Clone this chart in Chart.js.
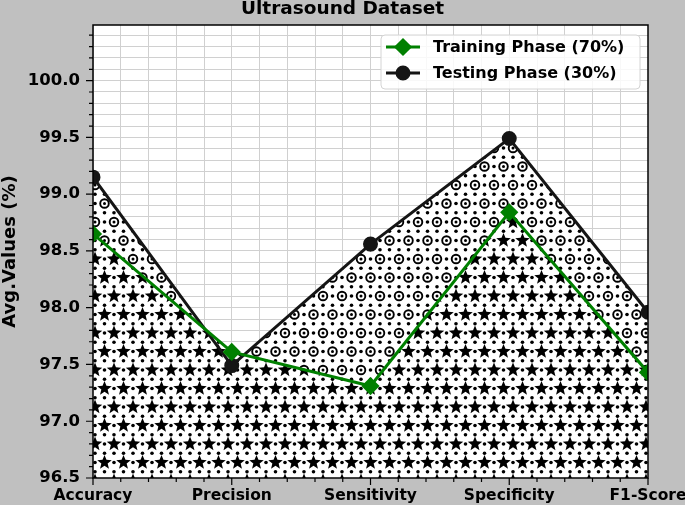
<!DOCTYPE html>
<html>
<head>
<meta charset="utf-8">
<script src="https://cdn.jsdelivr.net/npm/chart.js@4.4.0/dist/chart.umd.min.js"></script>
<style>
  html, body { margin: 0; padding: 0; background: #c0c0c0; }
  #wrap { width: 685px; height: 505px; }
</style>
</head>
<body>
<div id="wrap"><canvas id="ultrasoundChart"></canvas></div>
<script>
const categories = ['Accuracy', 'Precision', 'Sensitivity', 'Specificity', 'F1-Score'];
const trainingValues = [98.65, 97.61, 97.31, 98.84, 97.43];
const testingValues = [99.15, 97.49, 98.56, 99.49, 97.96];
const yMin = 96.5;
const yMax = 100.49;

// minor ticks every 0.1 on y, every 0.2 of a category on x
const yTicks = [];
for (let i = 965; i <= 1004; i++) yTicks.push(i / 10);
const xTicks = [];
for (let i = 0; i <= 20; i++) xTicks.push(i / 5);

const isMajorY = v => Math.abs(v * 2 - Math.round(v * 2)) < 1e-6;
const FONT = 'DejaVu Sans';
Chart.defaults.font.family = FONT;
Chart.defaults.color = 'black';

function drawStar(g, x, y, ro, ri) {
  g.beginPath();
  for (let k = 0; k < 10; k++) {
    const r = k % 2 ? ri : ro;
    const a = -Math.PI / 2 + k * Math.PI / 5;
    g.lineTo(x + r * Math.cos(a), y + r * Math.sin(a));
  }
  g.closePath();
  g.fill();
}

function drawBullseye(g, x, y) {
  g.beginPath();
  g.lineWidth = 1.9;
  g.arc(x, y, 4.3, 0, 2 * Math.PI);
  g.stroke();
  g.beginPath();
  g.arc(x, y, 1.5, 0, 2 * Math.PI);
  g.fill();
}

function makePattern(kind) {
  const w = 19, h = 37;
  const c = document.createElement('canvas');
  c.width = w; c.height = h;
  const g = c.getContext('2d');
  g.fillStyle = 'white';
  g.fillRect(0, 0, w, h);
  g.fillStyle = 'black';
  g.strokeStyle = 'black';
  const big = [[0, 0], [w, 0], [0, h], [w, h], [w / 2, h / 2]];
  const small = [];
  [0, w / 2, w].forEach(x => [0, h / 4, h / 2, 3 * h / 4, h].forEach(y => small.push([x, y])));
  small.forEach(([x, y]) => {
    const onBig = big.some(([bx, by]) => Math.abs(bx - x) < 1 && Math.abs(by - y) < 1);
    if (onBig) return;
    g.beginPath();
    g.arc(x, y, 1.8, 0, 2 * Math.PI);
    g.fill();
  });
  big.forEach(([x, y]) => kind === 'star' ? drawStar(g, x, y, 7.6, 3.3) : drawBullseye(g, x, y));
  return g.createPattern(c, 'repeat');
}

const frame = {
  id: 'frame',
  beforeDraw(chart) {
    const { ctx, chartArea: a } = chart;
    ctx.save();
    ctx.fillStyle = '#c0c0c0';
    ctx.fillRect(0, 0, chart.width, chart.height);
    ctx.fillStyle = 'white';
    ctx.fillRect(a.left, a.top, a.right - a.left, a.bottom - a.top);
    ctx.restore();
  },
  afterDatasetsDraw(chart) {
    const { ctx, chartArea: a, scales } = chart;
    ctx.save();
    ctx.strokeStyle = 'black';
    ctx.lineWidth = 1.5;
    ctx.strokeRect(a.left, a.top, a.right - a.left, a.bottom - a.top);
    ctx.lineWidth = 1.2;
    ctx.beginPath();
    yTicks.forEach(v => {
      const y = scales.y.getPixelForValue(v);
      ctx.moveTo(a.left, y);
      ctx.lineTo(a.left - (isMajorY(v) ? 7 : 4), y);
    });
    xTicks.forEach(v => {
      const x = scales.x.getPixelForValue(v);
      ctx.moveTo(x, a.bottom);
      ctx.lineTo(x, a.bottom + (Number.isInteger(v) ? 7 : 4));
    });
    ctx.stroke();
    ctx.restore();
  },
  afterDraw(chart) {
    const { ctx, chartArea: a } = chart;
    const bw = 259, bh = 54;
    const bx = a.right - 8 - bw, by = a.top + 10;
    ctx.save();
    ctx.beginPath();
    ctx.roundRect(bx, by, bw, bh, 4);
    ctx.fillStyle = 'rgba(255,255,255,0.85)';
    ctx.fill();
    ctx.strokeStyle = '#d4d4d4';
    ctx.lineWidth = 1;
    ctx.stroke();
    ctx.font = 'bold 16px "' + FONT + '"';
    ctx.textBaseline = 'middle';
    chart.data.datasets.forEach((ds, i) => {
      const y = by + 12 + i * 26;
      ctx.strokeStyle = ds.borderColor;
      ctx.fillStyle = ds.borderColor;
      ctx.lineWidth = 3;
      ctx.beginPath();
      ctx.moveTo(bx + 5, y);
      ctx.lineTo(bx + 39, y);
      ctx.stroke();
      Chart.helpers.drawPoint(ctx, { pointStyle: ds.pointStyle, radius: ds.pointRadius, borderWidth: 1 }, bx + 22, y);
      ctx.fillStyle = 'black';
      ctx.fillText(ds.label, bx + 52, y + 1);
    });
    ctx.restore();
  }
};

new Chart(document.getElementById('ultrasoundChart'), {
  type: 'line',
  data: {
    datasets: [
      {
        label: 'Training Phase (70%)',
        data: trainingValues.map((v, i) => ({ x: i, y: v })),
        borderColor: '#008000',
        backgroundColor: makePattern('star'),
        pointBackgroundColor: '#008000',
        pointBorderColor: '#008000',
        pointStyle: 'rectRot',
        pointRadius: 7,
        borderWidth: 3,
        fill: 'start',
        clip: 0
      },
      {
        label: 'Testing Phase (30%)',
        data: testingValues.map((v, i) => ({ x: i, y: v })),
        borderColor: '#151515',
        backgroundColor: makePattern('circle'),
        pointBackgroundColor: '#151515',
        pointBorderColor: '#151515',
        pointStyle: 'circle',
        pointRadius: 6,
        borderWidth: 3,
        fill: 'start',
        clip: 0
      }
    ]
  },
  options: {
    responsive: true,
    maintainAspectRatio: false,
    animation: false,
    layout: { padding: 0 },
    plugins: {
      legend: { display: false },
      tooltip: { enabled: false },
      filler: { drawTime: 'beforeDatasetsDraw' },
      title: {
        display: true,
        text: 'Ultrasound Dataset',
        color: 'black',
        font: { size: 18.5, weight: 'bold' },
        padding: { top: -2, bottom: 4.8 }
      }
    },
    scales: {
      x: {
        type: 'linear',
        min: 0,
        max: 4,
        afterBuildTicks: ax => { ax.ticks = xTicks.map(v => ({ value: v })); },
        afterFit: ax => { ax.height = 27; ax.paddingLeft = 0; ax.paddingRight = 37; },
        ticks: {
          autoSkip: false,
          maxRotation: 0,
          padding: 9,
          font: { size: 15.5, weight: 'bold' },
          callback: v => Number.isInteger(v) ? categories[v] : ''
        },
        grid: { color: '#d0d0d0', drawTicks: false },
        border: { display: false }
      },
      y: {
        min: yMin,
        max: yMax,
        afterBuildTicks: ax => { ax.ticks = yTicks.map(v => ({ value: v })); },
        afterFit: ax => { ax.width = 93; ax.paddingTop = 0; ax.paddingBottom = 0; },
        ticks: {
          autoSkip: false,
          padding: 13,
          font: { size: 16.5, weight: 'bold' },
          callback: v => isMajorY(v) ? v.toFixed(1) : ''
        },
        grid: { color: '#d0d0d0', drawTicks: false },
        border: { display: false },
        title: {
          display: true,
          text: 'Avg.Values (%)',
          font: { size: 18, weight: 'bold' },
          padding: { top: 0, bottom: -1 }
        }
      }
    }
  },
  plugins: [frame]
});
</script>
</body>
</html>
